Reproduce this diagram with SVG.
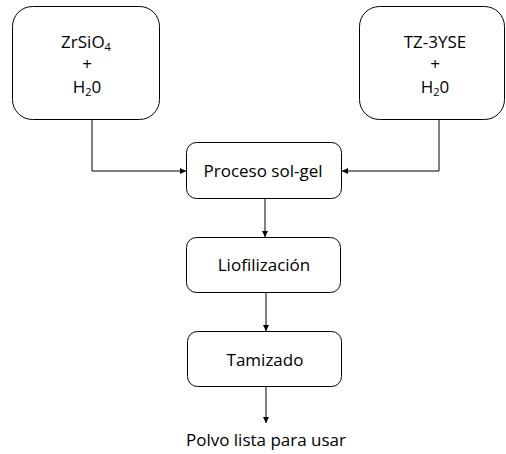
<svg xmlns="http://www.w3.org/2000/svg" width="506" height="454" viewBox="0 0 506 454">
<defs>
<style>
.box{fill:#fff;stroke:#000;stroke-width:1}
.t{font-family:"Open Sans","Noto Sans",sans-serif;font-size:17px;fill:#000;text-anchor:middle}
.sub{font-size:11px}
.c{fill:none;stroke:#000;stroke-width:1}
</style>
<marker id="ah" viewBox="0 0 10 10" refX="10" refY="5" markerWidth="6" markerHeight="6" orient="auto" markerUnits="userSpaceOnUse">
<path d="M0,0 L10,5 L0,10 z" fill="#000"/>
</marker>
</defs>
<rect width="506" height="454" fill="#fff"/>
<g id="connectors">
<path class="c" d="M92,120 V171 H186" marker-end="url(#ah)"/>
<path class="c" d="M439,120 V171 H342" marker-end="url(#ah)"/>
<path class="c" d="M265,198 V237" marker-end="url(#ah)"/>
<path class="c" d="M266,292 V331" marker-end="url(#ah)"/>
<path class="c" d="M266,387 V423" marker-end="url(#ah)"/>
</g>
<g id="n1">
<rect class="box" x="12.5" y="6.5" width="147" height="113" rx="20"/>
<text class="t" x="86" y="48">ZrSiO<tspan class="sub" dy="3">4</tspan></text>
<text class="t" x="87" y="70">+</text>
<text class="t" x="87" y="93">H<tspan class="sub" dy="3">2</tspan><tspan dy="-3">0</tspan></text>
</g>
<g id="n2">
<rect class="box" x="359.5" y="6.5" width="145" height="113" rx="20"/>
<text class="t" x="435" y="48">TZ-3YSE</text>
<text class="t" x="435" y="70">+</text>
<text class="t" x="435" y="93">H<tspan class="sub" dy="3">2</tspan><tspan dy="-3">0</tspan></text>
</g>
<g id="n3">
<rect class="box" x="186.5" y="142.5" width="155" height="56" rx="10"/>
<text class="t" x="263" y="177">Proceso sol-gel</text>
</g>
<g id="n4">
<rect class="box" x="186.5" y="237.5" width="154" height="55" rx="10"/>
<text class="t" x="264" y="271">Liofilización</text>
</g>
<g id="n5">
<rect class="box" x="187.5" y="331.5" width="154" height="55" rx="10"/>
<text class="t" x="265" y="366">Tamizado</text>
</g>
<g id="n6">
<text class="t" x="266" y="446">Polvo lista para usar</text>
</g>
</svg>
